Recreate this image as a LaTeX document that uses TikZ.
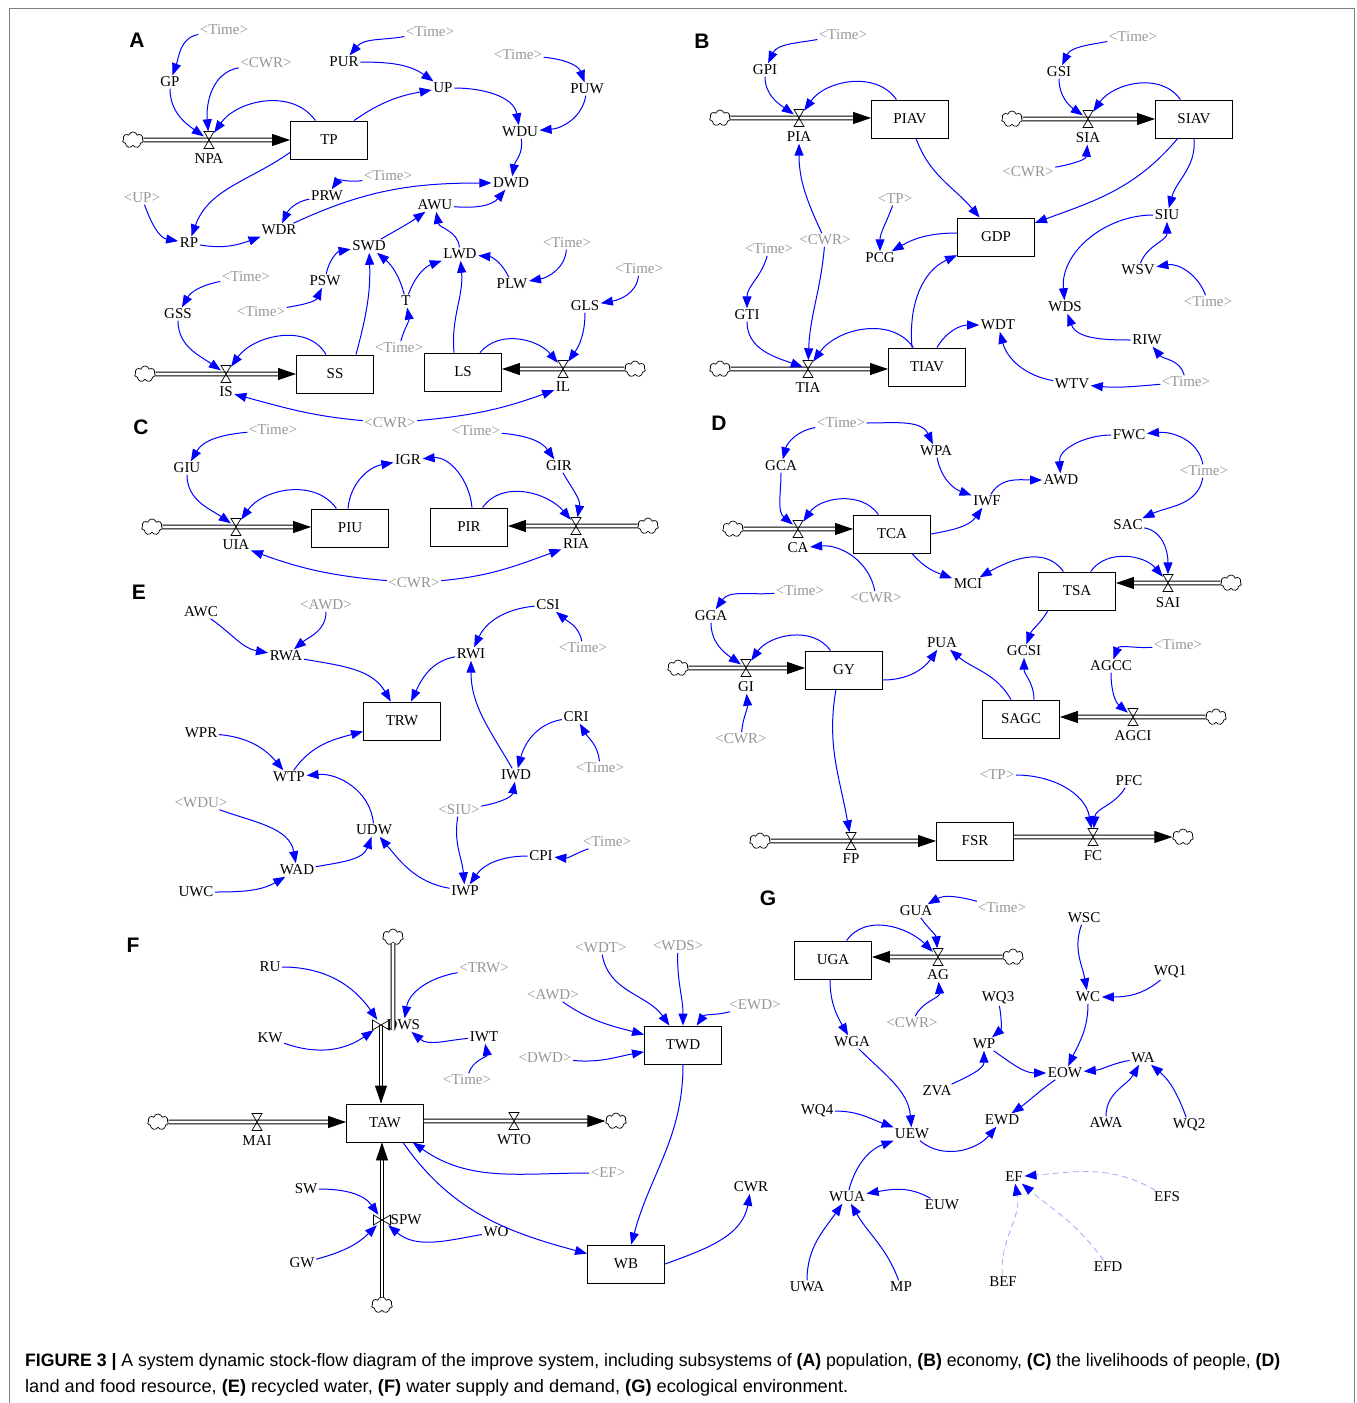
\documentclass[tikz,border=0pt]{standalone}
\usepackage{fontspec}
\usepackage{graphicx}
\setmainfont{Liberation Serif}
\newfontfamily\capfont{Liberation Sans}
\usetikzlibrary{arrows.meta,shapes.symbols}
\definecolor{lnk}{RGB}{0,0,255}
\definecolor{shd}{RGB}{150,150,150}
\definecolor{dsh}{RGB}{165,165,255}
\tikzset{
 v/.style={font=\fontsize{15}{17}\selectfont, inner sep=1.5pt},
 sh/.style={v, text=shd},
 stock/.style={draw, line width=0.9pt, minimum width=77pt, minimum height=38pt, inner sep=0pt, font=\fontsize{15}{17}\selectfont},
 lk/.style={draw=lnk, line width=1pt, -{Triangle[length=12pt,width=9pt]}},
 dl/.style={draw=dsh, line width=0.8pt, dash pattern=on 6pt off 4pt, -{Triangle[length=12pt,width=9pt,color=lnk]}},
 pipe/.style={double, double distance=2.8pt, line width=0.9pt, -{Triangle[length=18pt,width=12pt]}},
 pipen/.style={double, double distance=2.8pt, line width=0.9pt},
 cld/.style={cloud, draw, cloud puffs=7, aspect=1.3, minimum width=21pt, minimum height=16pt, inner sep=0pt, line width=0.7pt, fill=white},
 vlv/.style={minimum width=10pt, minimum height=17pt, inner sep=0pt},
 vlvv/.style={minimum width=17pt, minimum height=10pt, inner sep=0pt},
 pl/.style={font=\capfont\bfseries\fontsize{21}{24}\selectfont}
}
\newcommand\hgl[1]{\draw[line width=0.7pt] ([shift={(-5,8.5)}]#1.center) -- ++(10,0) -- ++(-10,-17) -- ++(10,0) -- cycle;}
\newcommand\btl[1]{\draw[line width=0.7pt] ([shift={(-8.5,5)}]#1.center) -- ++(0,-10) -- ++(17,10) -- ++(0,-10) -- cycle;}
\begin{document}
\begin{tikzpicture}[x=1pt,y=1pt]
\useasboundingbox (0,0) rectangle (1357,-1403);
\draw[gray, line width=0.8pt] (9,-1403) -- (9,-8) -- (1354,-8) -- (1354,-1403);

% ================= A =================
\node[pl] at (137,-40) {A};
\node[sh] (a_t1) at (224,-30) {<Time>};
\node[v] (GP) at (170,-82) {GP};
\node[sh] (a_cwr1) at (266,-63) {<CWR>};
\node[v] (PUR) at (344,-62) {PUR};
\node[sh] (a_t2) at (430,-32) {<Time>};
\node[v] (UP) at (443,-88) {UP};
\node[sh] (a_t3) at (518,-55) {<Time>};
\node[v] (PUW) at (587,-89) {PUW};
\node[v] (WDU) at (520,-132) {WDU};
\node[cld] (a_c1) at (133,-140) {};
\node[vlv] (vNPA) at (209,-140) {};
\node[v] (NPA) at (209,-159) {NPA};
\node[stock] (TP) at (329,-140) {TP};
\node[v] (DWD) at (511,-183) {DWD};
\node[sh] (a_t4) at (388,-176) {<Time>};
\node[v] (PRW) at (327,-196) {PRW};
\node[sh] (a_up) at (142,-198) {<UP>};
\node[v] (RP) at (189,-243) {RP};
\node[v] (WDR) at (279,-230) {WDR};
\node[v] (AWU) at (435,-205) {AWU};
\node[v] (SWD) at (369,-246) {SWD};
\node[v] (LWD) at (460,-254) {LWD};
\node[sh] (a_t5) at (567,-243) {<Time>};
\node[v] (PLW) at (512,-284) {PLW};
\node[sh] (a_t6) at (639,-269) {<Time>};
\node[v] (GLS) at (585,-306) {GLS};
\node[sh] (a_t7) at (246,-277) {<Time>};
\node[v] (GSS) at (178,-314) {GSS};
\node[v] (PSW) at (325,-281) {PSW};
\node[sh] (a_t8) at (261,-312) {<Time>};
\node[v] (T) at (406,-301) {T};
\node[sh] (a_t9) at (399,-348) {<Time>};
\node[cld] (a_c2) at (145,-374) {};
\node[vlv] (vIS) at (226,-374) {};
\node[v] (IS) at (226,-392) {IS};
\node[stock] (SS) at (335,-374) {SS};
\node[stock] (LS) at (463,-372) {LS};
\node[vlv] (vIL) at (563,-369) {};
\node[v] (IL) at (563,-387) {IL};
\node[cld] (a_c3) at (635,-369) {};
\node[sh] (a_cwr2) at (390,-423) {<CWR>};

\draw[pipe] (a_c1) -- (a_c1 -| TP.west);
\draw[pipe] (a_c2) -- (a_c2 -| SS.west);
\draw[pipe] (a_c3) -- (a_c3 -| LS.east);
\hgl{vNPA} \hgl{vIS} \hgl{vIL}

\draw[lk] (a_t1) to[out=190,in=70] (GP);
\draw[lk] (GP) to[out=-90,in=145] (vNPA);
\draw[lk] (a_cwr1) to[out=190,in=95] (vNPA);
\draw[lk] (TP) to[out=125,in=55] (vNPA);
\draw[lk] ([xshift=25]TP.north) to[out=35,in=190] (UP);
\draw[lk] (a_t2) to[out=190,in=50] (PUR);
\draw[lk] (PUR) to[out=0,in=145] (UP);
\draw[lk] (UP) to[out=0,in=100] (WDU);
\draw[lk] (a_t3) to[out=-5,in=110] (PUW);
\draw[lk] (PUW) to[out=-100,in=5] (WDU);
\draw[lk] (WDU) to[out=-80,in=80] (DWD);
\draw[lk] ([yshift=7]TP.south west) to[out=215,in=70] (RP);
\draw[lk] (a_up) to[out=-70,in=170] (RP);
\draw[lk] (RP) to[out=-10,in=200] (WDR);
\draw[lk] (a_t4) to[out=190,in=55] (PRW);
\draw[lk] (PRW) to[out=190,in=65] (WDR);
\draw[lk] (WDR) to[out=25,in=180] (DWD);
\draw[lk] (AWU) to[out=-5,in=230] (DWD);
\draw[lk] (SWD) to[out=30,in=215] (AWU);
\draw[lk] (LWD) to[out=95,in=-80] (AWU);
\draw[lk] (PSW) to[out=80,in=190] (SWD);
\draw[lk] (a_t8) to[out=10,in=245] (PSW);
\draw[lk] (T) to[out=105,in=-40] (SWD);
\draw[lk] (T) to[out=70,in=200] (LWD);
\draw[lk] (a_t9) to[out=75,in=-80] (T);
\draw[lk] (PLW) to[out=115,in=-5] (LWD);
\draw[lk] (a_t5) to[out=-95,in=10] (PLW);
\draw[lk] (a_t6) to[out=-95,in=10] (GLS);
\draw[lk] (GLS) to[out=-90,in=55] (vIL);
\draw[lk] ([xshift=17]LS.north) to[out=50,in=130] (vIL);
\draw[lk] ([xshift=-9]LS.north) to[out=95,in=-85] (LWD);
\draw[lk] ([xshift=21]SS.north) to[out=75,in=-88] (SWD);
\draw[lk] ([xshift=-9]SS.north) to[out=120,in=55] (vIS);
\draw[lk] (GSS) to[out=-90,in=145] (vIS);
\draw[lk] (a_t7) to[out=190,in=60] (GSS);
\draw[lk] (a_cwr2) to[out=175,in=-15] (IS);
\draw[lk] (a_cwr2) to[out=5,in=200] (IL);

% ================= B =================
\node[pl] at (702,-41) {B};
\node[sh] (b_t1) at (843,-35) {<Time>};
\node[v] (GPI) at (765,-70) {GPI};
\node[cld] (b_c1) at (720,-118) {};
\node[vlv] (vPIA) at (799,-118) {};
\node[v] (PIA) at (799,-137) {PIA};
\node[stock] (PIAV) at (910,-119) {PIAV};
\node[sh] (b_t2) at (1133,-37) {<Time>};
\node[v] (GSI) at (1059,-72) {GSI};
\node[cld] (b_c2) at (1012,-119) {};
\node[vlv] (vSIA) at (1088,-119) {};
\node[v] (SIA) at (1088,-138) {SIA};
\node[stock] (SIAV) at (1194,-119) {SIAV};
\node[sh] (b_cwr1) at (1028,-172) {<CWR>};
\node[sh] (b_tp) at (895,-199) {<TP>};
\node[stock] (GDP) at (996,-237) {GDP};
\node[v] (SIU) at (1167,-215) {SIU};
\node[v] (PCG) at (880,-258) {PCG};
\node[sh] (b_t3) at (769,-249) {<Time>};
\node[sh] (b_cwr2) at (825,-240) {<CWR>};
\node[v] (WSV) at (1138,-270) {WSV};
\node[sh] (b_t4) at (1208,-302) {<Time>};
\node[v] (GTI) at (747,-315) {GTI};
\node[v] (WDS) at (1065,-307) {WDS};
\node[v] (WDT) at (998,-325) {WDT};
\node[v] (RIW) at (1147,-340) {RIW};
\node[cld] (b_c3) at (720,-369) {};
\node[vlv] (vTIA) at (808,-369) {};
\node[v] (TIA) at (808,-388) {TIA};
\node[stock] (TIAV) at (927,-367) {TIAV};
\node[v] (WTV) at (1072,-384) {WTV};
\node[sh] (b_t5) at (1186,-382) {<Time>};

\draw[pipe] (b_c1) -- (b_c1 -| PIAV.west);
\draw[pipe] (b_c2) -- (b_c2 -| SIAV.west);
\draw[pipe] (b_c3) -- (b_c3 -| TIAV.west);
\hgl{vPIA} \hgl{vSIA} \hgl{vTIA}

\draw[lk] (b_t1) to[out=190,in=65] (GPI);
\draw[lk] (GPI) to[out=-90,in=145] (vPIA);
\draw[lk] (PIAV) to[out=125,in=55] (vPIA);
\draw[lk] ([xshift=6]PIAV.south) to[out=-70,in=130] (GDP);
\draw[lk] (b_t2) to[out=190,in=65] (GSI);
\draw[lk] (GSI) to[out=-90,in=145] (vSIA);
\draw[lk] (SIAV) to[out=125,in=55] (vSIA);
\draw[lk] (b_cwr1) to[out=10,in=-95] (SIA);
\draw[lk] (SIAV) to[out=-130,in=20] (GDP);
\draw[lk] (SIAV.south) to[out=-85,in=75] (SIU);
\draw[lk] (b_tp) to[out=-110,in=90] (PCG);
\draw[lk] ([yshift=4]GDP.west) to[out=180,in=30] (PCG);
\draw[lk] (b_cwr2) to[out=115,in=-90] (PIA);
\draw[lk] (b_cwr2) to[out=-95,in=88] (vTIA);
\draw[lk] (b_t3) to[out=-105,in=90] (GTI);
\draw[lk] (GTI) to[out=-90,in=160] (vTIA);
\draw[lk] (TIAV) to[out=125,in=55] (vTIA);
\draw[lk] ([xshift=-15]TIAV.north) to[out=95,in=205] (GDP);
\draw[lk] ([xshift=10]TIAV.north) to[out=60,in=180] (WDT);
\draw[lk] (WTV) to[out=170,in=-75] (WDT);
\draw[lk] (b_t5) to[out=185,in=-5] (WTV);
\draw[lk] (b_t5) to[out=105,in=-50] (RIW);
\draw[lk] (RIW) to[out=180,in=-70] (WDS);
\draw[lk] (SIU) to[out=180,in=95] (WDS);
\draw[lk] (WSV) to[out=70,in=-90] (SIU);
\draw[lk] (b_t4) to[out=110,in=10] (WSV);

% ================= C =================
\node[pl] at (141,-427) {C};
\node[sh] (c_t1) at (273,-430) {<Time>};
\node[v] (GIU) at (187,-468) {GIU};
\node[v] (IGR) at (408,-460) {IGR};
\node[sh] (c_t2) at (476,-431) {<Time>};
\node[v] (GIR) at (559,-466) {GIR};
\node[cld] (c_c1) at (152,-527) {};
\node[vlv] (vUIA) at (236,-527) {};
\node[v] (UIA) at (236,-545) {UIA};
\node[stock] (PIU) at (350,-528) {PIU};
\node[stock] (PIR) at (469,-527) {PIR};
\node[vlv] (vRIA) at (576,-526) {};
\node[v] (RIA) at (576,-544) {RIA};
\node[cld] (c_c2) at (648,-526) {};
\node[sh] (c_cwr) at (414,-583) {<CWR>};

\draw[pipe] (c_c1) -- (c_c1 -| PIU.west);
\draw[pipe] (c_c2) -- (c_c2 -| PIR.east);
\hgl{vUIA} \hgl{vRIA}

\draw[lk] (c_t1) to[out=185,in=60] (GIU);
\draw[lk] (GIU) to[out=-90,in=145] (vUIA);
\draw[lk] (PIU) to[out=125,in=55] (vUIA);
\draw[lk] ([xshift=-2]PIU.north) to[out=85,in=190] (IGR);
\draw[lk] ([xshift=3]PIR.north) to[out=95,in=5] (IGR);
\draw[lk] (c_t2) to[out=-5,in=125] (GIR);
\draw[lk] (GIR) to[out=-60,in=80] (vRIA);
\draw[lk] (PIR) to[out=55,in=130] (vRIA);
\draw[lk] (c_cwr) to[out=175,in=-20] (UIA);
\draw[lk] (c_cwr) to[out=5,in=200] (RIA);

% ================= E =================
\node[pl] at (139,-592) {E};
\node[v] (AWC) at (201,-612) {AWC};
\node[sh] (e_awd) at (326,-605) {<AWD>};
\node[v] (CSI) at (548,-605) {CSI};
\node[v] (RWA) at (286,-656) {RWA};
\node[v] (RWI) at (471,-654) {RWI};
\node[sh] (e_t1) at (583,-648) {<Time>};
\node[stock] (TRW) at (402,-721) {TRW};
\node[v] (CRI) at (576,-717) {CRI};
\node[v] (WPR) at (201,-733) {WPR};
\node[sh] (e_t2) at (600,-768) {<Time>};
\node[v] (WTP) at (289,-777) {WTP};
\node[v] (IWD) at (516,-775) {IWD};
\node[sh] (e_wdu) at (201,-803) {<WDU>};
\node[sh] (e_siu) at (459,-810) {<SIU>};
\node[v] (UDW) at (374,-830) {UDW};
\node[v] (CPI) at (541,-856) {CPI};
\node[sh] (e_t3) at (607,-842) {<Time>};
\node[v] (WAD) at (297,-870) {WAD};
\node[v] (UWC) at (196,-892) {UWC};
\node[v] (IWP) at (465,-891) {IWP};

\draw[lk] (AWC) to[out=-35,in=170] (RWA);
\draw[lk] (e_awd) to[out=-90,in=40] (RWA);
\draw[lk] (RWA) to[out=-10,in=120] (TRW);
\draw[lk] (CSI) to[out=185,in=65] (RWI);
\draw[lk] (e_t1) to[out=100,in=-40] (CSI);
\draw[lk] (RWI) to[out=190,in=65] (TRW);
\draw[lk] (IWD) to[out=120,in=-90] (RWI);
\draw[lk] (CRI) to[out=190,in=75] (IWD);
\draw[lk] (e_t2) to[out=95,in=-60] (CRI);
\draw[lk] (WPR) to[out=-5,in=130] (WTP);
\draw[lk] (WTP) to[out=55,in=195] (TRW);
\draw[lk] (UDW) to[out=95,in=5] (WTP);
\draw[lk] (e_wdu) to[out=-20,in=100] (WAD);
\draw[lk] (WAD) to[out=10,in=-110] (UDW);
\draw[lk] (UWC) to[out=0,in=210] (WAD);
\draw[lk] (IWP) to[out=170,in=-50] (UDW);
\draw[lk] (e_siu) to[out=10,in=-100] (IWD);
\draw[lk] (e_siu) to[out=-100,in=95] (IWP);
\draw[lk] (CPI) to[out=180,in=55] (IWP);
\draw[lk] (e_t3) to[out=-160,in=-5] (CPI);

% ================= D =================
\node[pl] at (719,-423) {D};
\node[sh] (d_t1) at (841,-423) {<Time>};
\node[v] (WPA) at (936,-451) {WPA};
\node[v] (GCA) at (781,-466) {GCA};
\node[v] (FWC) at (1129,-435) {FWC};
\node[v] (AWD) at (1061,-480) {AWD};
\node[sh] (d_t2) at (1204,-471) {<Time>};
\node[v] (IWF) at (987,-501) {IWF};
\node[stock] (TCA) at (892,-534) {TCA};
\node[v] (SAC) at (1128,-525) {SAC};
\node[cld] (d_c1) at (733,-529) {};
\node[vlv] (vCA) at (798,-529) {};
\node[v] (CA) at (798,-548) {CA};
\node[v] (MCI) at (968,-584) {MCI};
\node[sh] (d_cwr1) at (876,-598) {<CWR>};
\node[stock] (TSA) at (1077,-591) {TSA};
\node[vlv] (vSAI) at (1168,-583) {};
\node[v] (SAI) at (1168,-603) {SAI};
\node[cld] (d_c2) at (1231,-583) {};
\node[sh] (d_t3) at (800,-591) {<Time>};
\node[v] (GGA) at (711,-616) {GGA};
\node[v] (PUA) at (942,-643) {PUA};
\node[v] (GCSI) at (1024,-651) {GCSI};
\node[sh] (d_t4) at (1178,-645) {<Time>};
\node[v] (AGCC) at (1111,-666) {AGCC};
\node[cld] (d_c3) at (678,-668) {};
\node[vlv] (vGI) at (746,-668) {};
\node[v] (GI) at (746,-687) {GI};
\node[stock] (GY) at (844,-670) {GY};
\node[sh] (d_cwr2) at (741,-739) {<CWR>};
\node[stock] (SAGC) at (1021,-719) {SAGC};
\node[vlv] (vAGCI) at (1133,-717) {};
\node[v] (AGCI) at (1133,-736) {AGCI};
\node[cld] (d_c4) at (1216,-717) {};
\node[sh] (d_tp) at (997,-775) {<TP>};
\node[v] (PFC) at (1129,-781) {PFC};
\node[cld] (d_c5) at (760,-841) {};
\node[vlv] (vFP) at (851,-841) {};
\node[v] (FP) at (851,-859) {FP};
\node[stock] (FSR) at (975,-841) {FSR};
\node[vlv] (vFC) at (1093,-837) {};
\node[v] (FC) at (1093,-856) {FC};
\node[cld] (d_c6) at (1183,-837) {};

\draw[pipe] (d_c1) -- (d_c1 -| TCA.west);
\draw[pipe] (d_c2) -- (d_c2 -| TSA.east);
\draw[pipe] (d_c3) -- (d_c3 -| GY.west);
\draw[pipe] (d_c4) -- (d_c4 -| SAGC.east);
\draw[pipe] (d_c5) -- (d_c5 -| FSR.west);
\draw[pipe] (d_c6 -| FSR.east) -- (d_c6);
\hgl{vCA} \hgl{vSAI} \hgl{vGI} \hgl{vAGCI} \hgl{vFP} \hgl{vFC}

\draw[lk] (d_t1) to[out=190,in=75] (GCA);
\draw[lk] (d_t1) to[out=0,in=115] (WPA);
\draw[lk] (GCA) to[out=-90,in=140] (vCA);
\draw[lk] (TCA) to[out=125,in=55] (vCA);
\draw[lk] (WPA) to[out=-80,in=160] (IWF);
\draw[lk] (TCA.east) to[out=10,in=235] (IWF);
\draw[lk] (IWF) to[out=60,in=180] (AWD);
\draw[lk] (FWC) to[out=180,in=95] (AWD);
\draw[lk] (d_t2) to[out=100,in=5] (FWC);
\draw[lk] (d_t2) to[out=-100,in=25] (SAC);
\draw[lk] (SAC) to[out=-10,in=90] (vSAI);
\draw[lk] (TSA) to[out=55,in=130] (vSAI);
\draw[lk] (TSA) to[out=125,in=30] (MCI);
\draw[lk] ([xshift=20]TCA.south) to[out=-50,in=160] (MCI);
\draw[lk] (d_cwr1) to[out=100,in=5] (CA);
\draw[lk] (d_t3) to[out=185,in=55] (GGA);
\draw[lk] (GGA) to[out=-90,in=145] (vGI);
\draw[lk] (GY) to[out=125,in=55] (vGI);
\draw[lk] (d_cwr2) to[out=85,in=-85] (GI);
\draw[lk] ([yshift=-10]GY.east) to[out=0,in=235] (PUA);
\draw[lk] ([xshift=-10]SAGC.north) to[out=120,in=-40] (PUA);
\draw[lk] ([xshift=13]SAGC.north) to[out=90,in=-90] (GCSI);
\draw[lk] ([xshift=-29]TSA.south) to[out=-120,in=70] (GCSI);
\draw[lk] (d_t4) to[out=185,in=70] (AGCC);
\draw[lk] (AGCC) to[out=-90,in=140] (vAGCI);
\draw[lk] ([xshift=-8]GY.south) to[out=-100,in=100] (vFP);
\draw[lk] (d_tp) to[out=0,in=100] (vFC);
\draw[lk] (PFC) to[out=-120,in=85] (vFC);

% ================= F =================
\node[pl] at (133,-945) {F};
\node[cld] (f_c1) at (393,-937) {};
\node[v] (RU) at (270,-967) {RU};
\node[sh] (f_trw) at (484,-968) {<TRW>};
\node[sh] (f_wdt) at (601,-948) {<WDT>};
\node[sh] (f_wds) at (678,-946) {<WDS>};
\node[sh] (f_awd) at (553,-995) {<AWD>};
\node[sh] (f_ewd) at (755,-1005) {<EWD>};
\node[vlvv] (vDWS) at (381,-1025) {};
\node[v, anchor=west] (DWS) at (385,-1025) {DWS};
\node[v] (KW) at (270,-1038) {KW};
\node[v] (IWT) at (484,-1037) {IWT};
\node[stock] (TWD) at (683,-1045) {TWD};
\node[sh] (f_dwd) at (545,-1058) {<DWD>};
\node[sh] (f_t1) at (467,-1080) {<Time>};
\node[cld] (f_c2) at (158,-1122) {};
\node[vlv] (vMAI) at (257,-1122) {};
\node[v] (MAI) at (257,-1141) {MAI};
\node[stock] (TAW) at (385,-1123) {TAW};
\node[vlv] (vWTO) at (514,-1121) {};
\node[v] (WTO) at (514,-1140) {WTO};
\node[cld] (f_c3) at (616,-1121) {};
\node[sh] (f_ef) at (608,-1173) {<EF>};
\node[v] (CWR) at (751,-1187) {CWR};
\node[v] (SW) at (306,-1189) {SW};
\node[vlvv] (vSPW) at (382,-1220) {};
\node[v, anchor=west] (SPW) at (389,-1220) {SPW};
\node[v] (WO) at (496,-1232) {WO};
\node[v] (GW) at (302,-1263) {GW};
\node[stock] (WB) at (626,-1264) {WB};
\node[cld] (f_c4) at (382,-1305) {};

\draw[pipen] (f_c1) -- (f_c1 |- vDWS.south);
\draw[pipe] (vDWS.center) -- (vDWS |- TAW.north);
\draw[pipe] (f_c4) -- (f_c4 |- TAW.south);
\draw[pipe] (f_c2) -- (f_c2 -| TAW.west);
\draw[pipe] (f_c3 -| TAW.east) -- (f_c3);
\btl{vDWS} \btl{vSPW} \hgl{vMAI} \hgl{vWTO}

\draw[lk] (RU) to[out=0,in=125] (vDWS);
\draw[lk] (f_trw) to[out=190,in=80] (DWS);
\draw[lk] (KW) to[out=-20,in=215] (vDWS);
\draw[lk] (IWT) to[out=185,in=-40] (DWS);
\draw[lk] (f_t1) to[out=75,in=-80] (IWT);
\draw[lk] (f_wdt) to[out=-80,in=125] (TWD);
\draw[lk] (f_wds) to[out=-92,in=90] (TWD);
\draw[lk] (f_ewd) to[out=195,in=55] (TWD);
\draw[lk] (f_awd) to[out=-35,in=165] (TWD);
\draw[lk] (f_dwd) to[out=-5,in=190] (TWD);
\draw[lk] (TWD.south) to[out=-90,in=75] (WB);
\draw[lk] (f_ef) to[out=180,in=-35] (TAW);
\draw[lk] ([xshift=18]TAW.south) to[out=-55,in=165] (WB);
\draw[lk] (WB.east) to[out=20,in=-100] (CWR);
\draw[lk] (SW) to[out=0,in=125] (vSPW);
\draw[lk] (GW) to[out=15,in=225] (vSPW);
\draw[lk] (WO) to[out=190,in=-40] (vSPW);

% ================= G =================
\node[pl] at (768,-898) {G};
\node[v] (GUA) at (916,-911) {GUA};
\node[sh] (g_t1) at (1002,-908) {<Time>};
\node[v] (WSC) at (1084,-918) {WSC};
\node[stock] (UGA) at (833,-960) {UGA};
\node[vlv] (vAG) at (938,-957) {};
\node[v] (AG) at (938,-975) {AG};
\node[cld] (g_c1) at (1013,-957) {};
\node[v] (WQ1) at (1170,-972) {WQ1};
\node[v] (WQ3) at (998,-998) {WQ3};
\node[v] (WC) at (1088,-997) {WC};
\node[sh] (g_cwr) at (912,-1023) {<CWR>};
\node[v] (WGA) at (852,-1042) {WGA};
\node[v] (WP) at (984,-1044) {WP};
\node[v] (WA) at (1143,-1058) {WA};
\node[v] (EOW) at (1065,-1073) {EOW};
\node[v] (ZVA) at (937,-1091) {ZVA};
\node[v] (WQ4) at (817,-1111) {WQ4};
\node[v] (EWD) at (1002,-1120) {EWD};
\node[v] (AWA) at (1106,-1123) {AWA};
\node[v] (WQ2) at (1189,-1125) {WQ2};
\node[v] (UEW) at (912,-1134) {UEW};
\node[v] (EF) at (1014,-1177) {EF};
\node[v] (EFS) at (1167,-1197) {EFS};
\node[v] (WUA) at (847,-1197) {WUA};
\node[v] (EUW) at (942,-1205) {EUW};
\node[v] (EFD) at (1108,-1267) {EFD};
\node[v] (BEF) at (1003,-1282) {BEF};
\node[v] (UWA) at (807,-1287) {UWA};
\node[v] (MP) at (901,-1287) {MP};

\draw[pipe] (g_c1) -- (g_c1 -| UGA.east);
\hgl{vAG}

\draw[lk] (g_t1) to[out=165,in=30] (GUA);
\draw[lk] (GUA) to[out=-55,in=95] (vAG);
\draw[lk] (UGA) to[out=55,in=135] (vAG);
\draw[lk] (g_cwr) to[out=65,in=-85] (AG);
\draw[lk] ([xshift=-3]UGA.south) to[out=-90,in=120] (WGA);
\draw[lk] (WGA) to[out=-45,in=95] (UEW);
\draw[lk] (WQ4) to[out=0,in=160] (UEW);
\draw[lk] (WUA) to[out=75,in=200] (UEW);
\draw[lk] (UEW) to[out=-40,in=230] (EWD);
\draw[lk] (EOW) to[out=215,in=35] (EWD);
\draw[lk] (WP) to[out=-35,in=180] (EOW);
\draw[lk] (ZVA) to[out=25,in=-90] (WP);
\draw[lk] (WQ3) to[out=-80,in=40] (WP);
\draw[lk] (WSC) to[out=-110,in=100] (WC);
\draw[lk] (WQ1) to[out=-140,in=0] (WC);
\draw[lk] (WC) to[out=-90,in=65] (EOW);
\draw[lk] (WA) to[out=190,in=5] (EOW);
\draw[lk] (AWA) to[out=90,in=240] (WA);
\draw[lk] (WQ2) to[out=110,in=-40] (WA);
\draw[lk] (EUW) to[out=150,in=10] (WUA);
\draw[lk] (UWA) to[out=90,in=235] (WUA);
\draw[lk] (MP) to[out=110,in=-60] (WUA);
\draw[dl] (EFS) to[out=150,in=5] (EF);
\draw[dl] (EFD) to[out=125,in=-40] (EF);
\draw[dl] (BEF) to[out=95,in=-80] (EF);

% ================= caption =================
\node[anchor=base west, inner sep=0pt, font=\capfont\fontsize{18}{20}\selectfont] (cap1) at (25,-1366)
 {\resizebox{1255pt}{\height}{\textbf{FIGURE 3 |} A system dynamic stock-flow diagram of the improve system, including subsystems of \textbf{(A)} population, \textbf{(B)} economy, \textbf{(C)} the livelihoods of people, \textbf{(D)}}};
\node[anchor=base west, inner sep=0pt, font=\capfont\fontsize{18}{20}\selectfont] (cap2) at (25,-1392)
 {\resizebox{823pt}{\height}{land and food resource, \textbf{(E)} recycled water, \textbf{(F)} water supply and demand, \textbf{(G)} ecological environment.}};
\end{tikzpicture}
\end{document}
